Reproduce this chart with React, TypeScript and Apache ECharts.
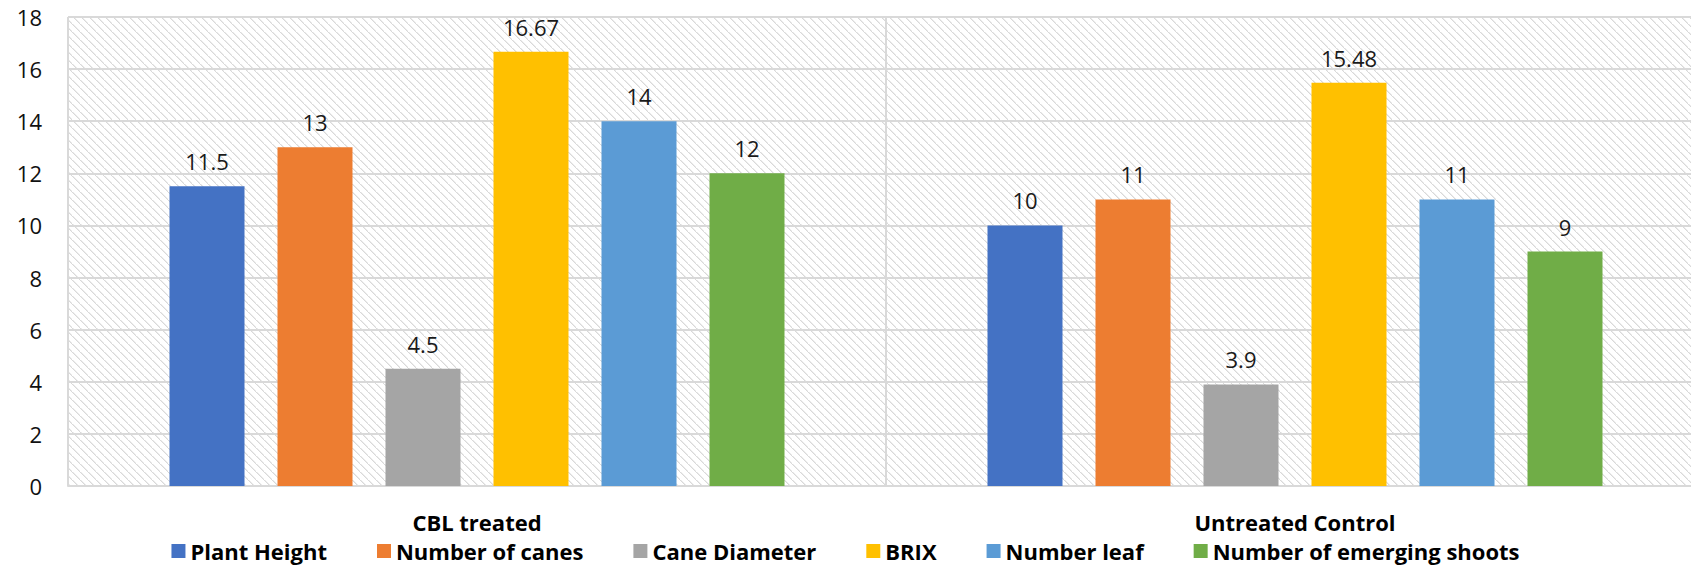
import React, { useEffect, useRef } from "react";
import * as echarts from "echarts";

const categories = ["CBL treated", "Untreated Control"];
const seriesNames = [
  "Plant Height",
  "Number of canes",
  "Cane Diameter",
  "BRIX",
  "Number leaf",
  "Number of emerging shoots",
];
const plantHeight = [11.5, 10];
const numberOfCanes = [13, 11];
const caneDiameter = [4.5, 3.9];
const brix = [16.67, 15.48];
const numberLeaf = [14, 11];
const emergingShoots = [12, 9];
const seriesValues = [plantHeight, numberOfCanes, caneDiameter, brix, numberLeaf, emergingShoots];
const colors = ["#4472C4", "#ED7D31", "#A5A5A5", "#FFC000", "#5B9BD5", "#70AD47"];
const yMin = 0;
const yMax = 18;
const yInterval = 2;

const FONT = "'Open Sans', Lato, sans-serif";

function makeHatch(): HTMLCanvasElement {
  const c = document.createElement("canvas");
  const s = 8;
  c.width = s;
  c.height = s;
  const ctx = c.getContext("2d")!;
  ctx.fillStyle = "#ffffff";
  ctx.fillRect(0, 0, s, s);
  ctx.fillStyle = "#d9d9d9";
  for (let i = 0; i < s; i++) {
    ctx.fillRect(i, i, 1.5, 1);
  }
  return c;
}

export default function App() {
  const ref = useRef<HTMLDivElement>(null);
  useEffect(() => {
    if (!ref.current) return;
    const chart = echarts.init(ref.current, undefined, { renderer: "svg" });
    const hatch = makeHatch();
    chart.setOption({
      animation: false,
      backgroundColor: "#ffffff",
      textStyle: { fontFamily: FONT },
      grid: {
        left: 68,
        right: -13,
        top: 17,
        bottom: 82,
        show: true,
        borderWidth: 0,
        backgroundColor: { image: hatch, repeat: "repeat" },
        outerBoundsMode: "none",
        containLabel: false,
      },
      legend: {
        data: seriesNames,
        left: "center",
        top: 540,
        padding: 0,
        icon: "rect",
        itemWidth: 14,
        itemHeight: 14,
        itemGap: 50,
        textStyle: { fontFamily: FONT, fontSize: 22, fontWeight: "bold", color: "#000000" },
      },
      xAxis: {
        type: "category",
        data: categories,
        axisLine: { show: true, lineStyle: { color: "#d9d9d9", width: 2 } },
        axisTick: { show: false },
        splitLine: { show: true, lineStyle: { color: "#d9d9d9", width: 2 } },
        axisLabel: {
          margin: 25,
          fontFamily: FONT,
          fontSize: 22,
          fontWeight: "bold",
          color: "#000000",
        },
      },
      yAxis: {
        type: "value",
        min: yMin,
        max: yMax,
        interval: yInterval,
        axisLine: { show: false },
        axisTick: { show: false },
        splitLine: { show: true, lineStyle: { color: "#d9d9d9", width: 2 } },
        axisLabel: { margin: 26, fontFamily: FONT, fontSize: 22, color: "#111111" },
      },
      series: seriesNames.map((name, i) => ({
        name,
        type: "bar",
        data: seriesValues[i],
        barWidth: 75,
        barGap: "44%",
        itemStyle: { color: colors[i] },
        label: {
          show: true,
          position: "top",
          distance: 14,
          fontFamily: FONT,
          fontSize: 22,
          color: "#1a1a1a",
        },
      })),
    });
    return () => chart.dispose();
  }, []);
  return (
    <div
      ref={ref}
      style={{ position: "fixed", left: 0, top: 0, width: 1691, height: 568, background: "#fff" }}
    />
  );
}
